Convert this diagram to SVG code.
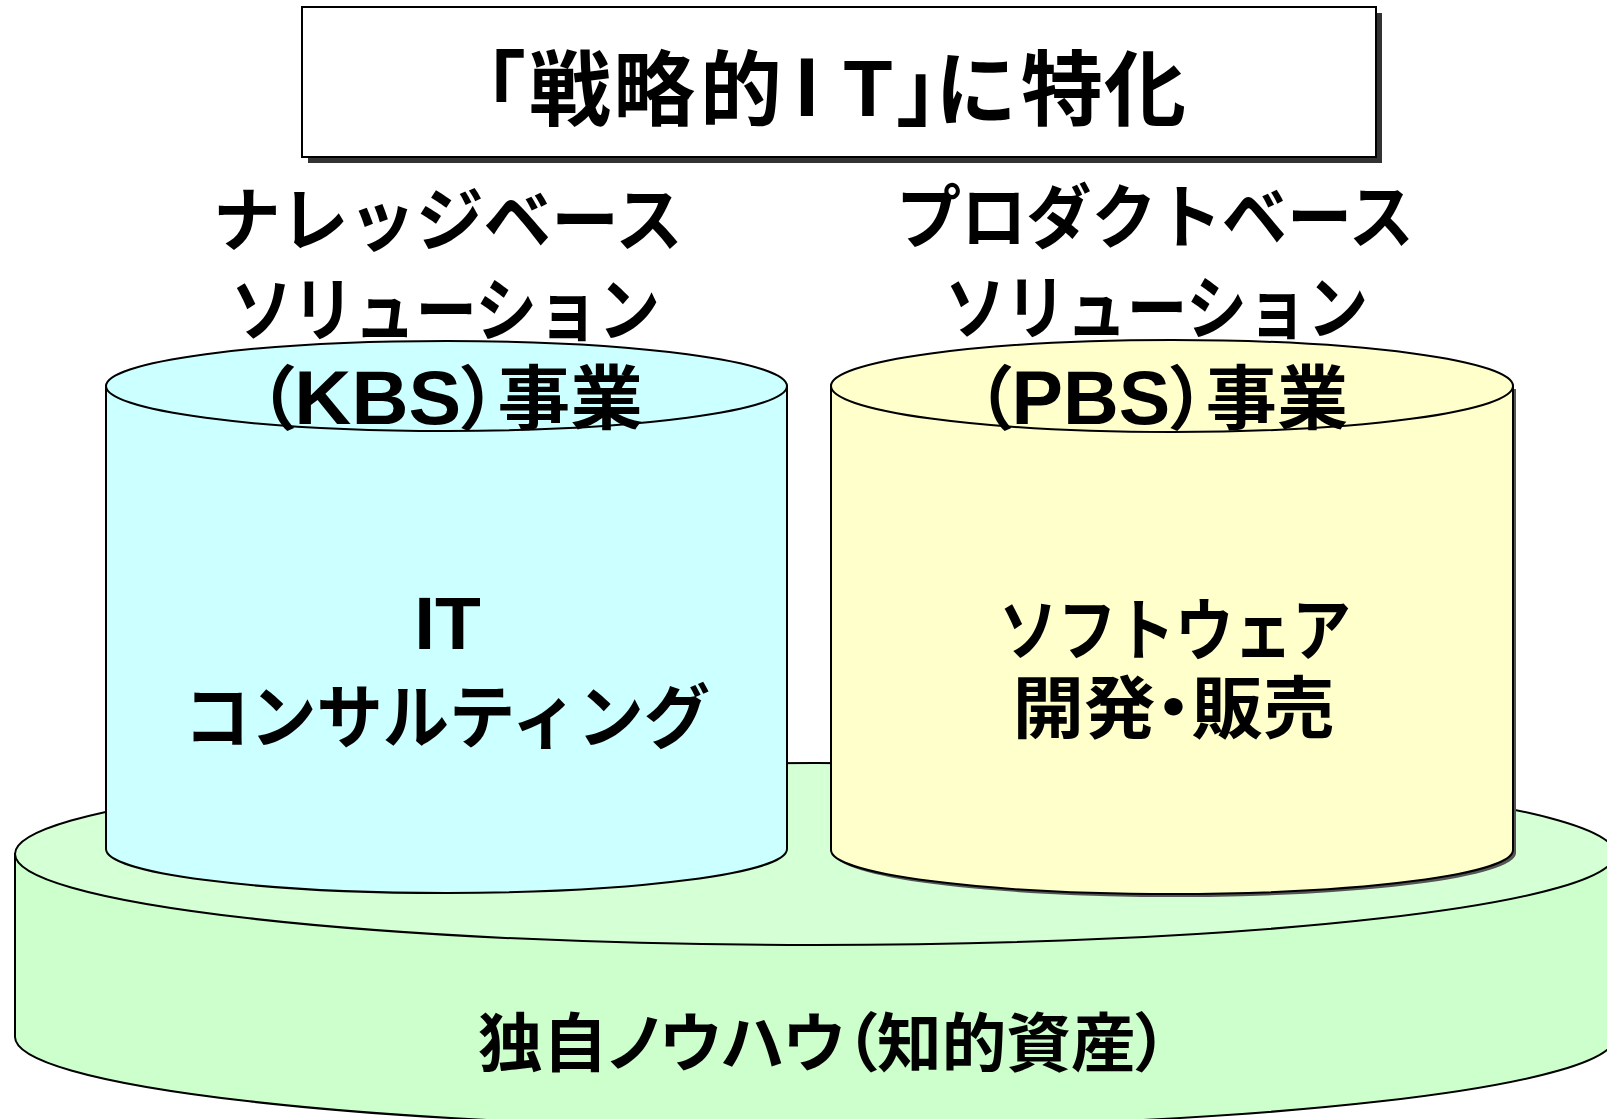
<svg xmlns="http://www.w3.org/2000/svg" width="1607" height="1119" viewBox="0 0 1607 1119">
<style>
.t{font-family:"Noto Sans CJK JP","Liberation Sans",sans-serif;font-weight:bold;fill:#000}
.l{font-family:"Liberation Sans","Noto Sans CJK JP",sans-serif;font-weight:bold;fill:#000}
.p{font-feature-settings:"palt"}
.ln{stroke:#000;stroke-width:2}
</style>
<rect width="1607" height="1119" fill="#fff"/>
<g id="base">
<path class="ln" d="M15,854 L15,1037 A800,91 0 0 0 1615,1037 L1615,854 Z" fill="#CCFFCC"/>
<ellipse class="ln" cx="815" cy="854" rx="800" ry="91" fill="#D5FFD5"/>
<text class="t p" x="478" y="1066" font-size="64" textLength="690" lengthAdjust="spacingAndGlyphs">独自ノウハウ（知的資産）</text>
</g>
<g id="kbs">
<path class="ln" d="M106,386 L106,849 A340.5,44 0 0 0 787,849 L787,386 Z" fill="#CCFFFF"/>
<ellipse class="ln" cx="446.5" cy="386" rx="340.5" ry="45" fill="#CCFFFF"/>
<text class="l" x="447.5" y="649" font-size="75" text-anchor="middle">IT</text>
<text class="t" x="447" y="743" font-size="70" text-anchor="middle" textLength="526" lengthAdjust="spacingAndGlyphs">コンサルティング</text>
</g>
<g id="pbs">
<path d="M834,389 L834,853 A341,44 0 0 0 1516,853 L1516,389 Z" fill="#555"/>
<path class="ln" d="M831,386 L831,850 A341,44 0 0 0 1513,850 L1513,386 Z" fill="#FFFFCC" stroke-width="2.5"/>
<ellipse class="ln" cx="1172" cy="386" rx="341" ry="46" fill="#FFFFCC" stroke-width="2.5"/>
<text class="t" x="1175" y="655" font-size="68" text-anchor="middle" textLength="352" lengthAdjust="spacingAndGlyphs">ソフトウェア</text>
<text class="t p" x="1173.5" y="733" font-size="68" text-anchor="middle" textLength="322" lengthAdjust="spacingAndGlyphs">開発・販売</text>
</g>
<g id="title">
<rect x="308" y="13" width="1074" height="150" fill="#333"/>
<rect class="ln" x="302" y="7" width="1074" height="150" fill="#fff"/>
<text class="t" y="119" font-size="82"><tspan x="444">「</tspan><tspan x="570" text-anchor="middle">戦</tspan><tspan x="654" text-anchor="middle">略</tspan><tspan x="741" text-anchor="middle">的</tspan><tspan class="l" x="807" y="116" font-size="84" text-anchor="middle">I</tspan><tspan class="l" x="868" y="116" font-size="80" text-anchor="middle">T</tspan><tspan x="896" y="119">」</tspan><tspan x="976" text-anchor="middle">に</tspan><tspan x="1062" text-anchor="middle">特</tspan><tspan x="1145" text-anchor="middle">化</tspan></text>
</g>
<g id="kbs-label">
<text class="t" x="448" y="246" font-size="70" text-anchor="middle" textLength="470" lengthAdjust="spacingAndGlyphs">ナレッジベース</text>
<text class="t" x="445.5" y="336" font-size="70" text-anchor="middle" textLength="429" lengthAdjust="spacingAndGlyphs">ソリューション</text>
<text class="t p" x="258" y="424" font-size="70" textLength="385" lengthAdjust="spacingAndGlyphs">（<tspan class="l" font-size="76">KBS</tspan>）事業</text>
</g>
<g id="pbs-label">
<text class="t" x="1155" y="243" font-size="70" text-anchor="middle" textLength="518" lengthAdjust="spacingAndGlyphs">プロダクトベース</text>
<text class="t" x="1156.5" y="334" font-size="70" text-anchor="middle" textLength="423" lengthAdjust="spacingAndGlyphs">ソリューション</text>
<text class="t p" x="976" y="424" font-size="70" textLength="372" lengthAdjust="spacingAndGlyphs">（<tspan class="l" font-size="76">PBS</tspan>）事業</text>
</g>
<g id="connectors"/>
</svg>
